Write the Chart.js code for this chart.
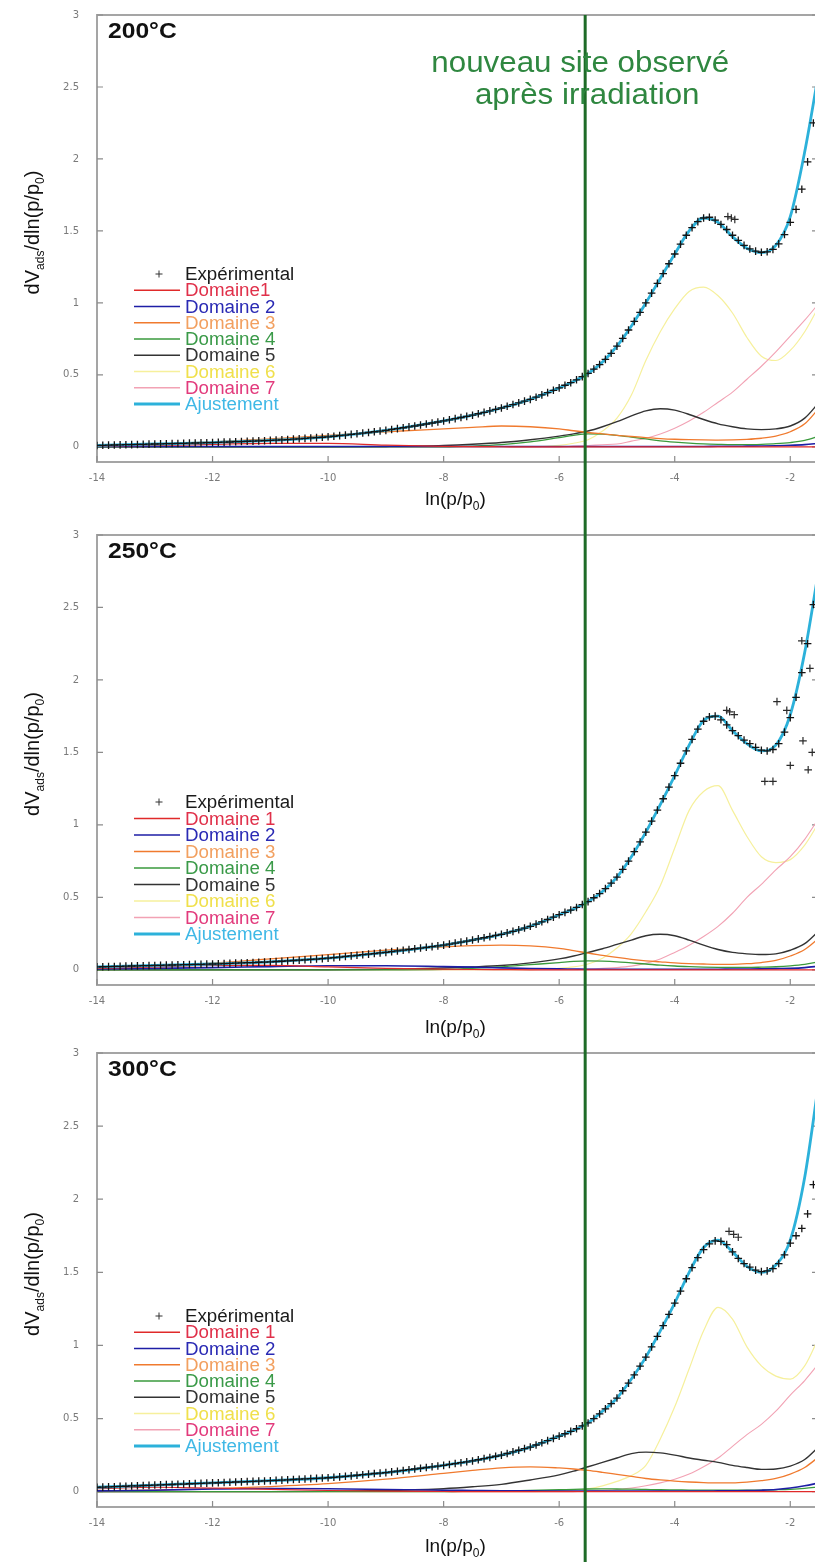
<!DOCTYPE html>
<html>
<head>
<meta charset="utf-8">
<script src="https://cdn.jsdelivr.net/npm/chart.js@4.4.1/dist/chart.umd.min.js"></script>
<style>
  html, body { margin: 0; padding: 0; background: #fff; width: 815px; height: 1562px; overflow: hidden; }
  .panel { position: relative; width: 815px; overflow: hidden; }
  canvas { display: block; }
</style>
</head>
<body>
<div class="panel" style="height:520px"><canvas id="c200" width="820" height="529" style="margin-top:-9px"></canvas></div>
<div class="panel" style="height:520px"><canvas id="c250" width="820" height="529" style="margin-top:-9px"></canvas></div>
<div class="panel" style="height:522px"><canvas id="c300" width="820" height="533" style="margin-top:-11px"></canvas></div>
<script>
// x grid of the fitted curves, ln(p/p0)
const lnP = [-14, -13, -12, -11, -10, -9, -8, -7.5, -7, -6.5, -6, -5.75, -5.5, -5.25, -5, -4.75,
  -4.5, -4.25, -4, -3.75, -3.5, -3.25, -3, -2.75, -2.5, -2.25, -2, -1.75, -1.5];

// x grid of the experimental points
const lnPExp = [
  -14, -13.9, -13.8, -13.7, -13.6, -13.5, -13.4, -13.3, -13.2, -13.1,
  -13, -12.9, -12.8, -12.7, -12.6, -12.5, -12.4, -12.3, -12.2, -12.1,
  -12, -11.9, -11.8, -11.7, -11.6, -11.5, -11.4, -11.3, -11.2, -11.1,
  -11, -10.9, -10.8, -10.7, -10.6, -10.5, -10.4, -10.3, -10.2, -10.1,
  -10, -9.9, -9.8, -9.7, -9.6, -9.5, -9.4, -9.3, -9.2, -9.1,
  -9, -8.9, -8.8, -8.7, -8.6, -8.5, -8.4, -8.3, -8.2, -8.1,
  -8, -7.9, -7.8, -7.7, -7.6, -7.5, -7.4, -7.3, -7.2, -7.1,
  -7, -6.9, -6.8, -6.7, -6.6, -6.5, -6.4, -6.3, -6.2, -6.1,
  -6, -5.9, -5.8, -5.7, -5.6, -5.5, -5.4, -5.3, -5.2, -5.1,
  -5, -4.9, -4.8, -4.7, -4.6, -4.5, -4.4, -4.3, -4.2, -4.1,
  -4, -3.9, -3.8, -3.7, -3.6, -3.5, -3.4, -3.3, -3.2, -3.1,
  -3, -2.9, -2.8, -2.7, -2.6, -2.5, -2.4, -2.3, -2.2, -2.1,
  -2, -1.9, -1.8, -1.7, -1.6];

const xTicks = [-14, -12, -10, -8, -6, -4, -2];
const yTicks = [0, 0.5, 1, 1.5, 2, 2.5, 3];
const newSiteX = -5.55;

const names200 = ['Expérimental', 'Domaine1', 'Domaine 2', 'Domaine 3', 'Domaine 4', 'Domaine 5', 'Domaine 6', 'Domaine 7', 'Ajustement'];
const names250 = ['Expérimental', 'Domaine 1', 'Domaine 2', 'Domaine 3', 'Domaine 4', 'Domaine 5', 'Domaine 6', 'Domaine 7', 'Ajustement'];
const names300 = names250;

// ---- 200°C ----
const exp200 = [
  0.010, 0.011, 0.012, 0.013, 0.014, 0.015, 0.016, 0.017, 0.018, 0.019,
  0.020, 0.021, 0.022, 0.023, 0.024, 0.025, 0.026, 0.027, 0.028, 0.029,
  0.030, 0.031, 0.033, 0.034, 0.036, 0.037, 0.039, 0.040, 0.042, 0.043,
  0.045, 0.047, 0.049, 0.051, 0.054, 0.056, 0.059, 0.062, 0.064, 0.067,
  0.070, 0.074, 0.078, 0.082, 0.087, 0.091, 0.096, 0.100, 0.105, 0.110,
  0.115, 0.121, 0.127, 0.133, 0.139, 0.145, 0.152, 0.159, 0.166, 0.173,
  0.180, 0.188, 0.196, 0.204, 0.212, 0.220, 0.230, 0.240, 0.250, 0.260,
  0.270, 0.282, 0.294, 0.306, 0.318, 0.330, 0.345, 0.361, 0.377, 0.393,
  0.410, 0.428, 0.446, 0.466, 0.488, 0.510, 0.540, 0.572, 0.608, 0.650,
  0.700, 0.754, 0.812, 0.872, 0.935, 1.000, 1.068, 1.136, 1.204, 1.272,
  1.340, 1.408, 1.470, 1.523, 1.565, 1.590, 1.595, 1.575, 1.545, 1.510,
  1.470, 1.435, 1.400, 1.375, 1.360, 1.352, 1.355, 1.372, 1.410, 1.475,
  1.560, 1.650, 1.790, 1.980, 2.250];
const outX200 = [-3.08, -3.02, -2.96];
const outY200 = [1.60, 1.59, 1.58];
const fit200 = [0.01, 0.02, 0.03, 0.045, 0.07, 0.115, 0.18, 0.22, 0.27, 0.33, 0.41, 0.455, 0.51, 0.59, 0.70,
  0.84, 1.0, 1.17, 1.34, 1.50, 1.59, 1.56, 1.46, 1.38, 1.35, 1.40, 1.60, 2.05, 2.62];
const dom1_200 = [0.005, 0.01, 0.018, 0.025, 0.025, 0.012, 0.004, 0.002, 0.001, 0, 0, 0, 0, 0, 0,
  0, 0, 0, 0, 0, 0, 0, 0, 0, 0, 0, 0, 0, 0];
const dom2_200 = [0.003, 0.003, 0.003, 0.003, 0.003, 0.003, 0.003, 0.003, 0.003, 0.003, 0.003, 0.003, 0.003, 0.003, 0.003,
  0.003, 0.003, 0.003, 0.003, 0.003, 0.003, 0.004, 0.004, 0.005, 0.006, 0.008, 0.011, 0.016, 0.025];
const dom3_200 = [0.01, 0.02, 0.035, 0.055, 0.08, 0.105, 0.125, 0.135, 0.145, 0.14, 0.125, 0.112, 0.10, 0.09, 0.08,
  0.072, 0.065, 0.058, 0.053, 0.05, 0.048, 0.047, 0.048, 0.052, 0.06, 0.075, 0.105, 0.16, 0.27];
const dom4_200 = [0, 0, 0, 0, 0, 0, 0, 0.005, 0.015, 0.035, 0.065, 0.08, 0.09, 0.088, 0.08,
  0.068, 0.055, 0.042, 0.033, 0.026, 0.021, 0.018, 0.016, 0.016, 0.018, 0.022, 0.03, 0.045, 0.075];
const dom5_200 = [0, 0, 0, 0, 0, 0.003, 0.01, 0.018, 0.03, 0.05, 0.075, 0.09, 0.11, 0.14, 0.175,
  0.215, 0.25, 0.265, 0.255, 0.225, 0.19, 0.16, 0.14, 0.125, 0.12, 0.125, 0.145, 0.2, 0.31];
const dom6_200 = [0, 0, 0, 0, 0, 0, 0, 0, 0, 0, 0.01, 0.025, 0.05, 0.11, 0.2,
  0.36, 0.6, 0.8, 0.96, 1.08, 1.11, 1.05, 0.93, 0.76, 0.63, 0.6, 0.67, 0.8, 0.98];
const dom7_200 = [0, 0, 0, 0, 0, 0, 0, 0, 0, 0, 0, 0.005, 0.01, 0.015, 0.02,
  0.04, 0.06, 0.09, 0.13, 0.18, 0.24, 0.31, 0.38, 0.47, 0.56, 0.66, 0.77, 0.88, 1.0];

// ---- 250°C ----
const exp250 = [
  0.020, 0.021, 0.022, 0.023, 0.024, 0.025, 0.026, 0.027, 0.028, 0.029,
  0.030, 0.031, 0.032, 0.033, 0.034, 0.035, 0.036, 0.037, 0.038, 0.039,
  0.040, 0.041, 0.043, 0.044, 0.046, 0.047, 0.049, 0.050, 0.052, 0.053,
  0.055, 0.057, 0.059, 0.061, 0.064, 0.066, 0.069, 0.072, 0.074, 0.077,
  0.080, 0.084, 0.088, 0.092, 0.096, 0.100, 0.104, 0.108, 0.112, 0.116,
  0.120, 0.125, 0.130, 0.135, 0.140, 0.145, 0.150, 0.155, 0.160, 0.165,
  0.170, 0.177, 0.184, 0.191, 0.198, 0.205, 0.213, 0.221, 0.229, 0.237,
  0.245, 0.255, 0.265, 0.276, 0.288, 0.300, 0.315, 0.331, 0.347, 0.363,
  0.380, 0.396, 0.412, 0.430, 0.450, 0.470, 0.497, 0.526, 0.560, 0.598,
  0.640, 0.693, 0.750, 0.815, 0.882, 0.950, 1.026, 1.102, 1.180, 1.260,
  1.340, 1.425, 1.510, 1.590, 1.660, 1.715, 1.745, 1.750, 1.725, 1.690,
  1.650, 1.615, 1.585, 1.560, 1.535, 1.515, 1.510, 1.520, 1.560, 1.640,
  1.740, 1.880, 2.050, 2.250, 2.520];
const outX250 = [-3.1, -3.05, -2.97, -2.23, -2.06, -1.8, -1.66, -1.78, -1.62, -2.0, -1.69, -2.44, -2.3];
const outY250 = [1.79, 1.78, 1.76, 1.85, 1.79, 2.27, 2.08, 1.58, 1.50, 1.41, 1.38, 1.30, 1.30];
const fit250 = [0.02, 0.03, 0.04, 0.055, 0.08, 0.12, 0.17, 0.205, 0.245, 0.30, 0.38, 0.42, 0.47, 0.54, 0.64,
  0.78, 0.95, 1.14, 1.34, 1.55, 1.72, 1.75, 1.65, 1.56, 1.51, 1.55, 1.76, 2.19, 2.78];
const dom1_250 = [0.01, 0.02, 0.03, 0.03, 0.02, 0.01, 0.004, 0.002, 0.001, 0, 0, 0, 0, 0, 0,
  0, 0, 0, 0, 0, 0, 0, 0, 0, 0, 0, 0, 0, 0];
const dom2_250 = [0.005, 0.01, 0.015, 0.022, 0.028, 0.028, 0.022, 0.018, 0.013, 0.009, 0.006, 0.005, 0.004, 0.004, 0.004,
  0.004, 0.004, 0.004, 0.004, 0.004, 0.004, 0.004, 0.005, 0.005, 0.006, 0.008, 0.01, 0.015, 0.025];
const dom3_250 = [0.01, 0.025, 0.045, 0.075, 0.105, 0.135, 0.158, 0.166, 0.17, 0.165, 0.148, 0.132, 0.115, 0.1, 0.085,
  0.072, 0.062, 0.055, 0.048, 0.043, 0.04, 0.038, 0.038, 0.042, 0.05, 0.065, 0.095, 0.14, 0.22];
const dom4_250 = [0, 0, 0, 0, 0, 0, 0.003, 0.01, 0.02, 0.035, 0.05, 0.058, 0.062, 0.06, 0.055,
  0.047, 0.04, 0.032, 0.026, 0.022, 0.019, 0.017, 0.016, 0.016, 0.018, 0.021, 0.027, 0.037, 0.055];
const dom5_250 = [0, 0, 0, 0, 0, 0.003, 0.012, 0.02, 0.03, 0.048, 0.075, 0.095, 0.12, 0.145, 0.175,
  0.205, 0.235, 0.245, 0.235, 0.205, 0.17, 0.14, 0.12, 0.11, 0.105, 0.11, 0.135, 0.18, 0.27];
const dom6_250 = [0, 0, 0, 0, 0, 0, 0, 0, 0, 0, 0.01, 0.02, 0.04, 0.08, 0.15,
  0.25, 0.40, 0.58, 0.84, 1.10, 1.23, 1.27, 1.10, 0.92, 0.78, 0.74, 0.76, 0.86, 1.02];
const dom7_250 = [0, 0, 0, 0, 0, 0, 0, 0, 0, 0, 0, 0, 0.005, 0.01, 0.015,
  0.025, 0.045, 0.075, 0.12, 0.17, 0.23, 0.30, 0.39, 0.50, 0.59, 0.69, 0.78, 0.90, 1.05];

// ---- 300°C ----
const exp300 = [
  0.030, 0.031, 0.033, 0.034, 0.036, 0.037, 0.039, 0.040, 0.042, 0.043,
  0.045, 0.046, 0.048, 0.049, 0.051, 0.052, 0.054, 0.055, 0.057, 0.058,
  0.060, 0.061, 0.063, 0.064, 0.066, 0.067, 0.069, 0.070, 0.072, 0.073,
  0.075, 0.077, 0.079, 0.081, 0.083, 0.085, 0.087, 0.089, 0.091, 0.093,
  0.095, 0.098, 0.101, 0.105, 0.108, 0.112, 0.116, 0.120, 0.124, 0.127,
  0.130, 0.135, 0.140, 0.145, 0.150, 0.155, 0.160, 0.165, 0.170, 0.175,
  0.180, 0.186, 0.192, 0.198, 0.204, 0.210, 0.218, 0.226, 0.234, 0.242,
  0.250, 0.261, 0.272, 0.283, 0.294, 0.305, 0.319, 0.334, 0.349, 0.364,
  0.380, 0.396, 0.412, 0.430, 0.450, 0.470, 0.500, 0.532, 0.566, 0.602,
  0.640, 0.690, 0.742, 0.798, 0.858, 0.920, 0.990, 1.062, 1.136, 1.212,
  1.290, 1.372, 1.456, 1.532, 1.600, 1.655, 1.695, 1.715, 1.712, 1.690,
  1.640, 1.595, 1.560, 1.535, 1.515, 1.505, 1.510, 1.525, 1.560, 1.620,
  1.700, 1.750, 1.800, 1.900, 2.100];
const outX300 = [-3.06, -2.98, -2.9];
const outY300 = [1.78, 1.76, 1.74];
const fit300 = [0.03, 0.045, 0.06, 0.075, 0.095, 0.13, 0.18, 0.21, 0.25, 0.305, 0.38, 0.42, 0.47, 0.55, 0.64,
  0.77, 0.92, 1.10, 1.29, 1.50, 1.67, 1.72, 1.64, 1.54, 1.50, 1.55, 1.72, 2.15, 2.82];
const dom1_300 = [0.02, 0.03, 0.025, 0.015, 0.008, 0.003, 0.001, 0, 0, 0, 0, 0, 0, 0, 0,
  0, 0, 0, 0, 0, 0, 0, 0, 0, 0, 0, 0, 0, 0];
const dom2_300 = [0.005, 0.01, 0.018, 0.022, 0.02, 0.015, 0.01, 0.008, 0.006, 0.005, 0.004, 0.004, 0.004, 0.004, 0.004,
  0.004, 0.004, 0.004, 0.004, 0.004, 0.004, 0.005, 0.006, 0.007, 0.01, 0.015, 0.025, 0.04, 0.06];
const dom3_300 = [0.005, 0.01, 0.02, 0.035, 0.055, 0.085, 0.125, 0.145, 0.163, 0.17, 0.162, 0.155, 0.145, 0.132, 0.118,
  0.104, 0.09, 0.08, 0.072, 0.066, 0.062, 0.06, 0.06, 0.065, 0.075, 0.09, 0.12, 0.165, 0.24];
const dom4_300 = [0, 0, 0, 0, 0, 0, 0, 0.002, 0.004, 0.008, 0.013, 0.016, 0.018, 0.019, 0.018,
  0.017, 0.015, 0.013, 0.012, 0.011, 0.01, 0.01, 0.01, 0.01, 0.011, 0.013, 0.016, 0.022, 0.032];
const dom5_300 = [0, 0, 0, 0, 0.002, 0.008, 0.02, 0.033, 0.05, 0.08, 0.115, 0.14, 0.17, 0.2, 0.23,
  0.26, 0.27, 0.265, 0.25, 0.23, 0.215, 0.2, 0.18, 0.165, 0.152, 0.155, 0.175, 0.22, 0.31];
const dom6_300 = [0, 0, 0, 0, 0, 0, 0, 0, 0, 0, 0.005, 0.01, 0.02, 0.04, 0.07,
  0.11, 0.18, 0.36, 0.58, 0.84, 1.1, 1.26, 1.18, 0.99, 0.86, 0.79, 0.77, 0.86, 1.06];
const dom7_300 = [0, 0, 0, 0, 0, 0, 0, 0, 0, 0, 0, 0, 0.005, 0.01, 0.015,
  0.025, 0.04, 0.06, 0.085, 0.12, 0.17, 0.23, 0.31, 0.39, 0.46, 0.55, 0.66, 0.76, 0.88];

// line styles of Domaine 1..7 (line colour, width, legend text colour)
const domStyle = [
  { line: '#e02a2a', w: 1.2, text: '#e0304a' },
  { line: '#1e1ea6', w: 1.6, text: '#2a2ab4' },
  { line: '#f07a2e', w: 1.3, text: '#f2a060' },
  { line: '#3a9a3c', w: 1.3, text: '#3a9a48' },
  { line: '#333333', w: 1.4, text: '#333333' },
  { line: '#f6f09c', w: 1.2, text: '#f0e04c' },
  { line: '#f2a2b4', w: 1.1, text: '#e23a7c' }
];
const fitStyle = { line: '#2cb1da', w: 2.8, text: '#3fb8e6' };

Chart.defaults.font.family = '"DejaVu Sans", sans-serif';

const pts = (xs, ys) => xs.map((x, i) => ({ x: x, y: ys[i] }));

function drawText(ctx, s, x, y, font, color, align, sx) {
  ctx.save();
  ctx.font = font;
  ctx.fillStyle = color;
  ctx.textAlign = align || 'left';
  ctx.textBaseline = 'alphabetic';
  ctx.translate(x, y);
  ctx.scale(sx || 1, 1);
  ctx.fillText(s, 0, 0);
  ctx.restore();
}

// draws pieces [text, isSub] one after the other, centred on cx
function drawPieces(ctx, pieces, cx, y, big, small, color) {
  ctx.save();
  ctx.fillStyle = color;
  ctx.textBaseline = 'alphabetic';
  ctx.textAlign = 'left';
  let total = 0;
  pieces.forEach(p => { ctx.font = p[1] ? small : big; total += ctx.measureText(p[0]).width; });
  let x = cx - total / 2;
  pieces.forEach(p => {
    ctx.font = p[1] ? small : big;
    ctx.fillText(p[0], x, y + (p[1] ? 5 : 0));
    x += ctx.measureText(p[0]).width;
  });
  ctx.restore();
}

function cross(ctx, x, y, r) {
  ctx.moveTo(x - r, y); ctx.lineTo(x + r, y);
  ctx.moveTo(x, y - r); ctx.lineTo(x, y + r);
}

const deco = {
  id: 'deco',
  beforeDatasetsDraw(chart) {
    const { ctx, chartArea: a, scales } = chart;
    const xs = scales.x, ys = scales.y;
    ctx.save();
    ctx.strokeStyle = '#a5a5a5';
    ctx.lineWidth = 2;
    ctx.strokeRect(a.left, a.top, a.right - a.left, a.bottom - a.top);
    ctx.strokeStyle = '#8c8c8c';
    ctx.lineWidth = 1.2;
    ctx.beginPath();
    xs.ticks.forEach(t => {
      const p = xs.getPixelForValue(t.value);
      ctx.moveTo(p, a.bottom); ctx.lineTo(p, a.bottom - 6);
    });
    ys.ticks.forEach(t => {
      const p = ys.getPixelForValue(t.value);
      ctx.moveTo(a.left, p); ctx.lineTo(a.left + 6, p);
      ctx.moveTo(a.right, p); ctx.lineTo(a.right - 6, p);
    });
    ctx.stroke();
    ctx.restore();
  },
  afterDraw(chart, args, o) {
    const { ctx, chartArea: a, scales } = chart;
    const xs = scales.x;

    // legend
    const lx = a.left + 37, lx2 = a.left + 83, tx = a.left + 88;
    chart.data.datasets.forEach((ds, i) => {
      if (ds.noLegend) return;
      const yy = a.top + o.legendDy + i * o.legendStep;
      ctx.save();
      if (ds.showLine === false) {
        ctx.strokeStyle = '#333';
        ctx.lineWidth = 1;
        ctx.beginPath();
        cross(ctx, a.left + 62, yy, 3.5);
        ctx.stroke();
      } else {
        ctx.strokeStyle = ds.borderColor;
        ctx.lineWidth = Math.max(ds.borderWidth, 1.6);
        ctx.beginPath();
        ctx.moveTo(lx, yy); ctx.lineTo(lx2, yy);
        ctx.stroke();
      }
      ctx.restore();
      drawText(ctx, ds.label, tx, yy + 6, '18px "Liberation Sans", Arial, sans-serif', ds.legendColor, 'left', 1.04);
    });

    // panel temperature label
    drawText(ctx, o.label, a.left + 11, a.top + 23, 'bold 22px "Liberation Sans", Arial, sans-serif', '#111', 'left', 1.12);

    // axis titles
    drawPieces(ctx, [['ln(p/p', false], ['0', true], [')', false]], (a.left + a.right) / 2 - 2, a.bottom + o.titleDy,
      '19px "Liberation Sans", Arial, sans-serif', '12px "Liberation Sans", Arial, sans-serif', '#111');
    ctx.save();
    ctx.translate(33, (a.top + a.bottom) / 2 - 6);
    ctx.rotate(-Math.PI / 2);
    drawPieces(ctx, [['dV', false], ['ads', true], ['/dln(p/p', false], ['0', true], [')', false]], 0, 6,
      '20px "Liberation Sans", Arial, sans-serif', '12px "Liberation Sans", Arial, sans-serif', '#111');
    ctx.restore();

    // new adsorption site marker
    const gx = xs.getPixelForValue(newSiteX);
    ctx.save();
    ctx.strokeStyle = '#1e6b27';
    ctx.lineWidth = 3;
    ctx.beginPath();
    ctx.moveTo(gx, o.first ? a.top : 0);
    ctx.lineTo(gx, chart.height);
    ctx.stroke();
    ctx.restore();
    if (o.first) {
      const f = '29px "Liberation Sans", Arial, sans-serif';
      drawText(ctx, 'nouveau site observé', gx - 5, a.top + 57, f, '#2f8740', 'center', 1.08);
      drawText(ctx, 'après irradiation', gx + 2, a.top + 89, f, '#2f8740', 'center', 1.08);
    }
  }
};

function buildChart(id, p) {
  const lineDs = (label, ys, st, order) => ({
    label: label,
    data: pts(lnP, ys),
    borderColor: st.line,
    borderWidth: st.w,
    legendColor: st.text,
    pointRadius: 0,
    cubicInterpolationMode: 'monotone',
    fill: false,
    order: order
  });
  const datasets = [
    {
      label: p.names[0], data: pts(lnPExp, p.exp), showLine: false,
      pointStyle: 'cross', pointRadius: 3.8, pointBorderColor: '#141414', pointBorderWidth: 1.3,
      legendColor: '#1a1a1a', order: 0
    }
  ];
  p.doms.forEach((d, i) => datasets.push(lineDs(p.names[i + 1], d, domStyle[i], i === 5 ? 9 : 2)));
  datasets.push(lineDs(p.names[8], p.fit, fitStyle, 1));
  datasets.push({
    label: '', data: pts(p.outX, p.outY), showLine: false, noLegend: true,
    pointStyle: 'cross', pointRadius: 3.8, pointBorderColor: '#2a2a2a', pointBorderWidth: 1.2, order: 0
  });

  const tickFont = { family: '"DejaVu Sans", sans-serif', size: 10 };
  return new Chart(document.getElementById(id), {
    type: 'line',
    data: { datasets: datasets },
    options: {
      responsive: false,
      animation: false,
      events: [],
      layout: { autoPadding: false, padding: { top: 24, right: 2, left: 0, bottom: 0 } },
      scales: {
        x: {
          type: 'linear', min: -14, max: -1.52,
          grid: { display: false, drawTicks: false }, border: { display: false },
          afterBuildTicks: s => { s.ticks = xTicks.map(v => ({ value: v })); },
          ticks: { padding: 10, color: '#7a7a7a', font: tickFont, maxRotation: 0, callback: v => String(v) },
          afterFit: s => { s.height = p.xh; }
        },
        y: {
          type: 'linear', min: -0.105, max: 3,
          grid: { display: false, drawTicks: false }, border: { display: false },
          afterBuildTicks: s => { s.ticks = yTicks.map(v => ({ value: v })); },
          ticks: { padding: 18, color: '#7a7a7a', font: tickFont, callback: v => String(v) },
          afterFit: s => { s.width = 97; }
        }
      },
      plugins: {
        legend: { display: false },
        tooltip: { enabled: false },
        deco: {
          label: p.label, first: p.first, titleDy: p.titleDy,
          legendDy: p.legendDy, legendStep: p.legendStep
        }
      }
    },
    plugins: [deco]
  });
}

buildChart('c200', {
  label: '200°C', names: names200, exp: exp200, outX: outX200, outY: outY200, fit: fit200,
  doms: [dom1_200, dom2_200, dom3_200, dom4_200, dom5_200, dom6_200, dom7_200],
  first: true, xh: 58, titleDy: 43, legendDy: 259, legendStep: 16.25
});
buildChart('c250', {
  label: '250°C', names: names250, exp: exp250, outX: outX250, outY: outY250, fit: fit250,
  doms: [dom1_250, dom2_250, dom3_250, dom4_250, dom5_250, dom6_250, dom7_250],
  first: false, xh: 55, titleDy: 48, legendDy: 267, legendStep: 16.5
});
buildChart('c300', {
  label: '300°C', names: names300, exp: exp300, outX: outX300, outY: outY300, fit: fit300,
  doms: [dom1_300, dom2_300, dom3_300, dom4_300, dom5_300, dom6_300, dom7_300],
  first: false, xh: 55, titleDy: 45, legendDy: 263, legendStep: 16.25
});
</script>
</body>
</html>
